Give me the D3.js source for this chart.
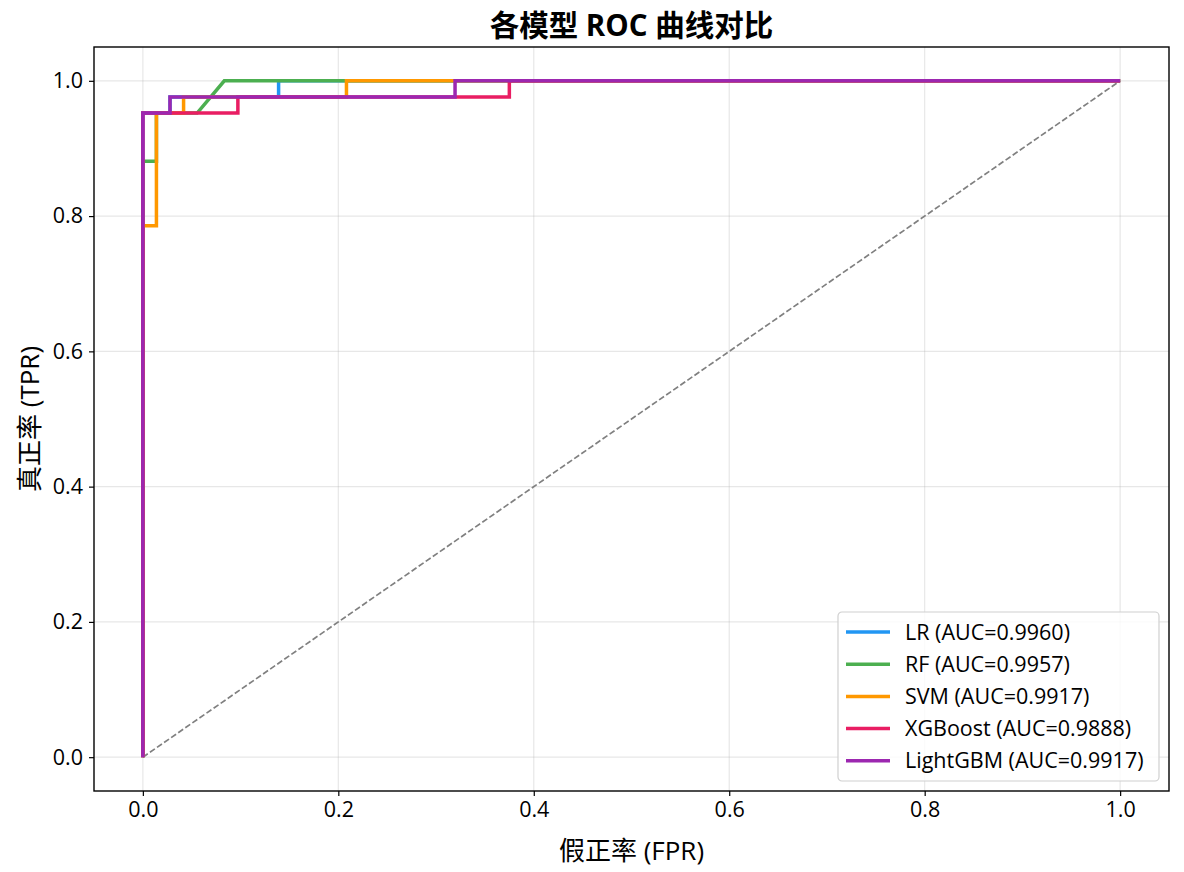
<!DOCTYPE html>
<html>
<head>
<meta charset="utf-8">
<script src="https://cdn.jsdelivr.net/npm/d3@7"></script>
<style>
  body { margin: 0; background: #fff; }
  svg text { font-family: "Open Sans", "Noto Sans CJK SC", sans-serif; fill: #000; }
</style>
</head>
<body>
<div id="chart"></div>
<script>
// Model names and AUC values from the legend
var models = ["LR", "RF", "SVM", "XGBoost", "LightGBM"];
var aucs = ["0.9960", "0.9957", "0.9917", "0.9888", "0.9917"];
var colors = ["#2196F3", "#4CAF50", "#FF9800", "#E91E63", "#9C27B0"];

// ROC points (FPR, TPR) for each model
var lrFpr = [0, 0, 2/72, 2/72, 10/72, 10/72, 1];
var lrTpr = [0, 40/42, 40/42, 41/42, 41/42, 1, 1];
var rfFpr = [0, 0, 1/72, 1/72, 4/72, 6/72, 1];
var rfTpr = [0, 37/42, 37/42, 40/42, 40/42, 1, 1];
var svmFpr = [0, 0, 1/72, 1/72, 3/72, 3/72, 15/72, 15/72, 1];
var svmTpr = [0, 33/42, 33/42, 40/42, 40/42, 41/42, 41/42, 1, 1];
var xgbFpr = [0, 0, 7/72, 7/72, 27/72, 27/72, 1];
var xgbTpr = [0, 40/42, 40/42, 41/42, 41/42, 1, 1];
var lgbFpr = [0, 0, 2/72, 2/72, 23/72, 23/72, 1];
var lgbTpr = [0, 40/42, 40/42, 41/42, 41/42, 1, 1];

var fprs = [lrFpr, rfFpr, svmFpr, xgbFpr, lgbFpr];
var tprs = [lrTpr, rfTpr, svmTpr, xgbTpr, lgbTpr];
var ticks = [0, 0.2, 0.4, 0.6, 0.8, 1.0];

// Sizing
var W = 1184, H = 872;
var margin = {top: 47, right: 15, bottom: 81, left: 94};
var width = W - margin.left - margin.right;
var height = H - margin.top - margin.bottom;

var svg = d3.select("#chart").append("svg")
    .attr("width", W)
    .attr("height", H);

var g = svg.append("g")
    .attr("transform", "translate(" + margin.left + "," + margin.top + ")");

var x = d3.scaleLinear().domain([-0.05, 1.05]).range([0, width]);
var y = d3.scaleLinear().domain([-0.05, 1.05]).range([height, 0]);

// Grid
g.append("g").selectAll("line").data(ticks).enter().append("line")
    .attr("x1", function(d) { return x(d); })
    .attr("x2", function(d) { return x(d); })
    .attr("y1", 0).attr("y2", height)
    .attr("stroke", "#b0b0b0").attr("stroke-opacity", 0.3).attr("stroke-width", 1.2);
g.append("g").selectAll("line").data(ticks).enter().append("line")
    .attr("y1", function(d) { return y(d); })
    .attr("y2", function(d) { return y(d); })
    .attr("x1", 0).attr("x2", width)
    .attr("stroke", "#b0b0b0").attr("stroke-opacity", 0.3).attr("stroke-width", 1.2);

// Axes
var xAxis = g.append("g")
    .attr("transform", "translate(0," + height + ")")
    .call(d3.axisBottom(x).tickValues(ticks).tickFormat(d3.format(".1f")).tickSize(5).tickPadding(6));
var yAxis = g.append("g")
    .call(d3.axisLeft(y).tickValues(ticks).tickFormat(d3.format(".1f")).tickSize(5).tickPadding(6));
[xAxis, yAxis].forEach(function(a) {
    a.select(".domain").remove();
    a.selectAll("line").attr("stroke", "#000").attr("stroke-width", 1.2);
    a.selectAll("text").style("font-size", "21.5px").attr("fill", "#000");
});

// Diagonal reference line
g.append("line")
    .attr("x1", x(0)).attr("y1", y(0))
    .attr("x2", x(1)).attr("y2", y(1))
    .attr("stroke", "#808080")
    .attr("stroke-width", 1.7)
    .attr("stroke-dasharray", "6,2.6");

// ROC curves
var line = d3.line()
    .x(function(d) { return x(d[0]); })
    .y(function(d) { return y(d[1]); });

models.forEach(function(m, i) {
    var pts = fprs[i].map(function(f, j) { return [f, tprs[i][j]]; });
    g.append("path")
        .datum(pts)
        .attr("fill", "none")
        .attr("stroke", colors[i])
        .attr("stroke-width", 3.5)
        .attr("stroke-linejoin", "miter")
        .attr("d", line);
});

// Frame
g.append("rect")
    .attr("width", width).attr("height", height)
    .attr("fill", "none").attr("stroke", "#000").attr("stroke-width", 1.4);

// Title
svg.append("text")
    .attr("x", margin.left + width / 2)
    .attr("y", 36)
    .attr("text-anchor", "middle")
    .style("font-size", "29.5px")
    .style("font-weight", "bold")
    .text("各模型 ROC 曲线对比");

// Axis labels
svg.append("text")
    .attr("x", margin.left + width / 2)
    .attr("y", 860)
    .attr("text-anchor", "middle")
    .style("font-size", "26px")
    .text("假正率 (FPR)");

svg.append("text")
    .attr("transform", "translate(39," + (margin.top + height / 2) + ") rotate(-90)")
    .attr("text-anchor", "middle")
    .style("font-size", "26px")
    .text("真正率 (TPR)");

// Legend
var legend = svg.append("g").attr("transform", "translate(838,612)");
legend.append("rect")
    .attr("width", 321).attr("height", 169)
    .attr("rx", 4)
    .attr("fill", "#fff").attr("fill-opacity", 0.8)
    .attr("stroke", "#d0d0d0").attr("stroke-width", 1.2);

models.forEach(function(m, i) {
    var ly = 20 + i * 32.2;
    legend.append("line")
        .attr("x1", 8).attr("x2", 52)
        .attr("y1", ly).attr("y2", ly)
        .attr("stroke", colors[i]).attr("stroke-width", 3.5);
    legend.append("text")
        .attr("x", 67).attr("y", ly + 7.5)
        .style("font-size", "21.5px")
        .text(m + " (AUC=" + aucs[i] + ")");
});
</script>
</body>
</html>
